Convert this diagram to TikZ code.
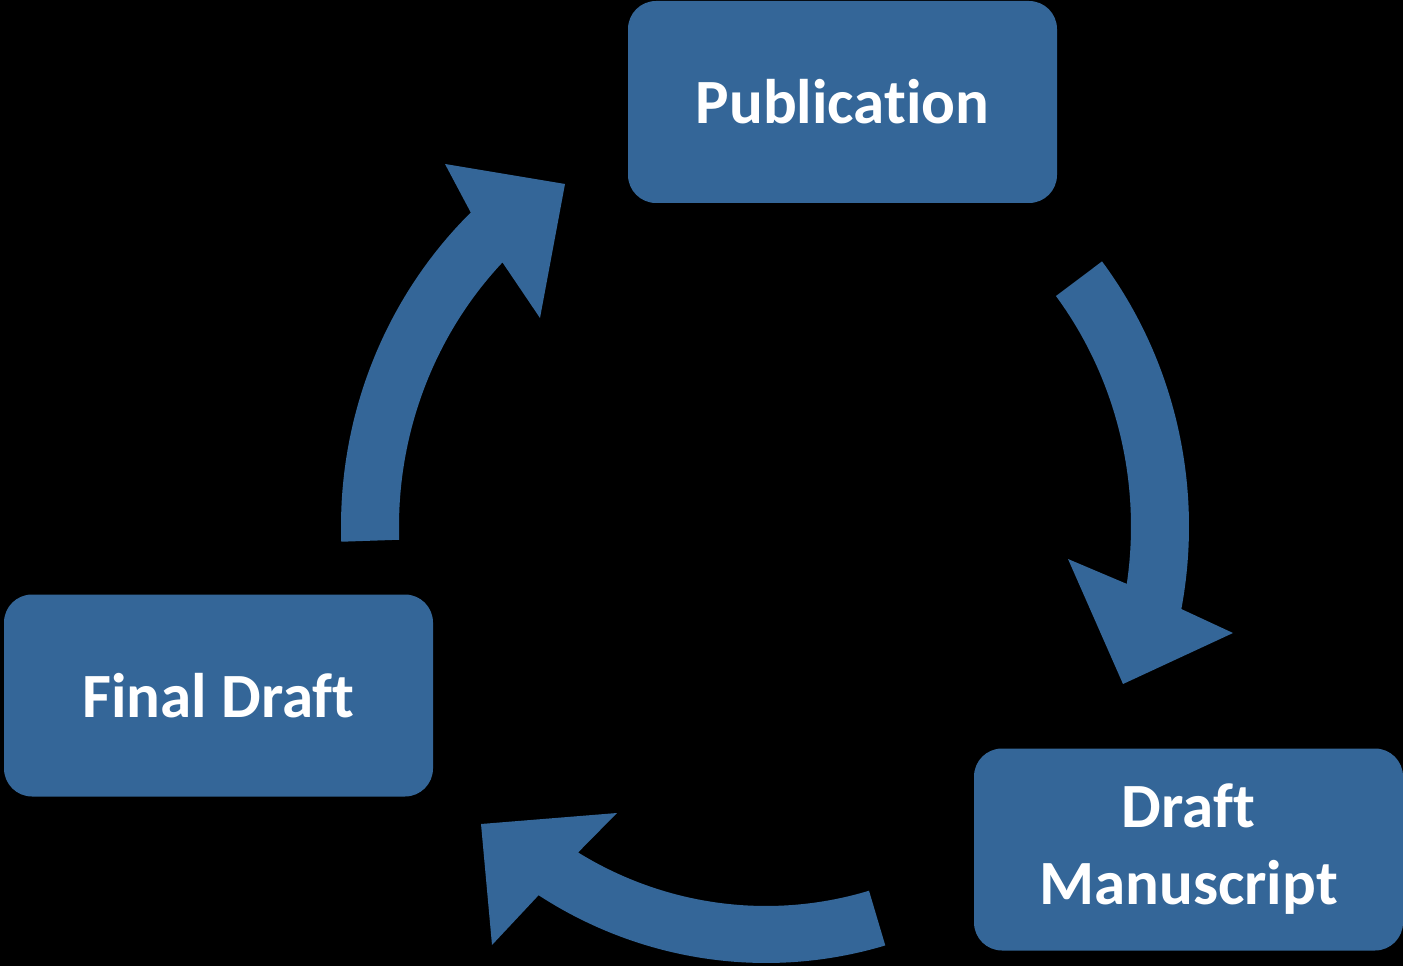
\documentclass[tikz,border=0pt]{standalone}
\usepackage{fontspec}
\setmainfont{Carlito}[Ligatures={NoCommon}]
\usetikzlibrary{calc}
\definecolor{steel}{HTML}{346698}

\begin{document}
\begin{tikzpicture}[x=.5pt,y=.5pt,
  stage/.style={fill=steel,rounded corners=14pt,minimum width=214.5pt,
    minimum height=101pt,inner sep=0pt,align=center,text=white,
    font=\bfseries\fontsize{31.5}{38.5}\selectfont},
  loop/.style={fill=steel}]
\fill[black] (0,0) rectangle (1403,966);
\useasboundingbox (0,0) rectangle (1403,966);
\coordinate (c) at (766,439.5);
% the three stages
\node[stage] (pub) at (842.5,864) {Publication};
\node[stage] (ms) at (1188.5,116.5) {Draft\\Manuscript};
\node[stage] (final) at (218.5,270.5) {Final Draft};
% final draft -> publication
\fill[loop] ($(c)+(182:425 and 436.5)$)
  arc[start angle=182,end angle=134,x radius=425,y radius=436.5]
  -- (445,802) -- (565,782) -- (540,648)
  -- ($(c)+(135.9:367 and 379.5)$)
  arc[start angle=135.9,end angle=182,x radius=367,y radius=379.5] -- cycle;
% publication -> draft manuscript
\fill[loop] ($(c)+(37.4:423 and 436.5)$)
  arc[start angle=37.4,end angle=-10.9,x radius=423,y radius=436.5]
  -- (1233,333) -- (1123,282) -- (1068,407)
  -- ($(c)+(-8.7:365 and 379.5)$)
  arc[start angle=-8.7,end angle=37.4,x radius=365,y radius=379.5] -- cycle;
% draft manuscript -> final draft
\fill[loop] ($(c)+(-73.7:425 and 436.5)$)
  arc[start angle=-73.7,end angle=-122.35,x radius=425,y radius=436.5]
  -- (492,21) -- (481,142) -- (617,153)
  -- ($(c)+(-120.8:367 and 379.5)$)
  arc[start angle=-120.8,end angle=-73.7,x radius=367,y radius=379.5] -- cycle;
\end{tikzpicture}
\end{document}
